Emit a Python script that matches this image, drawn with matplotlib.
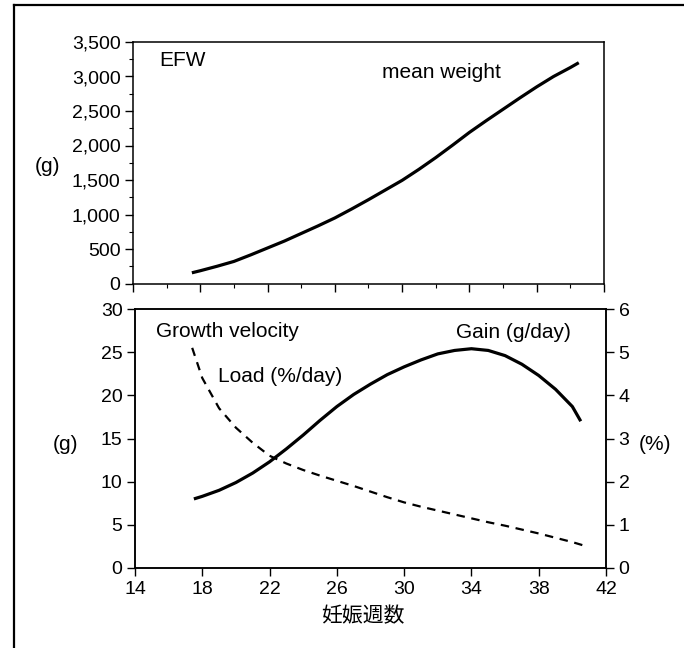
import matplotlib
matplotlib.use('Agg')
import matplotlib.pyplot as plt
from matplotlib.lines import Line2D
from matplotlib.ticker import MultipleLocator, FixedLocator, FuncFormatter

plt.rcParams['font.family'] = ['Liberation Sans', 'Noto Sans CJK JP', 'DejaVu Sans']
plt.rcParams['font.size'] = 15

# mean fetal weight (g) by gestational week
weight_weeks = [17.5, 18, 19, 20, 21, 22, 23, 24, 25, 26, 27, 28, 29,
                30, 31, 32, 33, 34, 35, 36, 37, 38, 39, 40, 40.5]
weight_g = [155, 185, 250, 320, 415, 515, 615, 725, 835, 950, 1080, 1215, 1355,
            1495, 1655, 1825, 2005, 2190, 2360, 2525, 2690, 2850, 3000, 3130, 3200]

# daily gain (g/day)
gain_weeks = [17.5, 18, 19, 20, 21, 22, 23, 24, 25, 26, 27, 28, 29,
              30, 31, 32, 33, 34, 35, 36, 37, 38, 39, 40, 40.5]
gain_g = [8.0, 8.3, 9.0, 9.9, 11.0, 12.3, 13.8, 15.4, 17.1, 18.7, 20.1, 21.3, 22.4,
          23.3, 24.1, 24.8, 25.2, 25.4, 25.2, 24.6, 23.6, 22.3, 20.7, 18.7, 17.0]

# load (%/day)
load_weeks = [17.4, 18, 19, 20, 21, 22, 23, 24, 25, 26, 27, 28, 29,
              30, 31, 32, 33, 34, 35, 36, 37, 38, 39, 40, 40.6]
load_pct = [5.1, 4.4, 3.7, 3.25, 2.9, 2.6, 2.42, 2.27, 2.14, 2.02, 1.9, 1.77, 1.64,
            1.52, 1.42, 1.33, 1.24, 1.15, 1.06, 0.98, 0.89, 0.8, 0.7, 0.6, 0.53]

week_ticks = [14, 18, 22, 26, 30, 34, 38, 42]
week_minor = [16, 20, 24, 28, 32, 36, 40]

W, H = 684, 648
fig = plt.figure(figsize=(W / 100, H / 100), dpi=100)


def box(l, t, r, b):
    return [l / W, 1 - b / H, (r - l) / W, (b - t) / H]


def ftext(x, y, s, **kw):
    fig.text(x / W, 1 - y / H, s, **kw)


tick_kw = dict(direction='out', width=1.0, color='black', labelsize=14, pad=3)

# upper panel
ax1 = fig.add_axes(box(133, 42, 604, 283.5))
ax1.plot(weight_weeks, weight_g, color='black', lw=2.3, solid_capstyle='butt')
ax1.set_xlim(14, 42)
ax1.set_ylim(0, 3500)
ax1.yaxis.set_major_locator(MultipleLocator(500))
ax1.yaxis.set_minor_locator(MultipleLocator(250))
ax1.xaxis.set_major_locator(FixedLocator(week_ticks))
ax1.xaxis.set_minor_locator(FixedLocator(week_minor))
ax1.yaxis.set_major_formatter(FuncFormatter(lambda v, p: f'{v:,.0f}'))
ax1.tick_params(which='major', length=6, **tick_kw)
ax1.tick_params(which='minor', length=3, direction='out', width=0.8)
ax1.tick_params(axis='x', labelbottom=False)
for s in ax1.spines.values():
    s.set_linewidth(1.1)

# lower panel
ax2 = fig.add_axes(box(135, 309, 606, 568))
ax2.plot(gain_weeks, gain_g, color='black', lw=2.3, solid_capstyle='butt')
ax2.set_xlim(14, 42)
ax2.set_ylim(0, 30)
ax2.xaxis.set_major_locator(FixedLocator(week_ticks))
ax2.yaxis.set_major_locator(MultipleLocator(5))
ax2.tick_params(length=6, **tick_kw)
ax2.tick_params(axis='x', pad=3)
for s in ax2.spines.values():
    s.set_linewidth(1.1)

ax3 = ax2.twinx()
ax3.plot(load_weeks, load_pct, color='black', lw=1.6, linestyle=(0, (3.8, 3.0)))
ax3.set_ylim(0, 6)
ax3.yaxis.set_major_locator(MultipleLocator(1))
ax3.tick_params(length=6, **tick_kw)
for s in ax3.spines.values():
    s.set_linewidth(1.1)

# labels
ftext(48, 167, '(g)', ha='center', va='center')
ftext(159, 61, 'EFW', ha='left', va='center')
ftext(382, 73, 'mean weight', ha='left', va='center')
ftext(156, 331, 'Growth velocity', ha='left', va='center')
ftext(218, 377, 'Load (%/day)', ha='left', va='center')
ftext(456, 333, 'Gain (g/day)', ha='left', va='center')
ftext(65, 444, '(g)', ha='center', va='center')
ftext(655, 444, '(%)', ha='center', va='center')
ftext(363, 616, '妊娠週数', ha='center', va='center', fontsize=15)

# outer frame (left and top edges)
fig.add_artist(Line2D([14 / W, 14 / W], [0, 1 - 5 / H], transform=fig.transFigure,
                      color='black', lw=1.6))
fig.add_artist(Line2D([14 / W, 1], [1 - 5 / H, 1 - 5 / H], transform=fig.transFigure,
                      color='black', lw=1.6))

fig.savefig('out.png', dpi=100)
